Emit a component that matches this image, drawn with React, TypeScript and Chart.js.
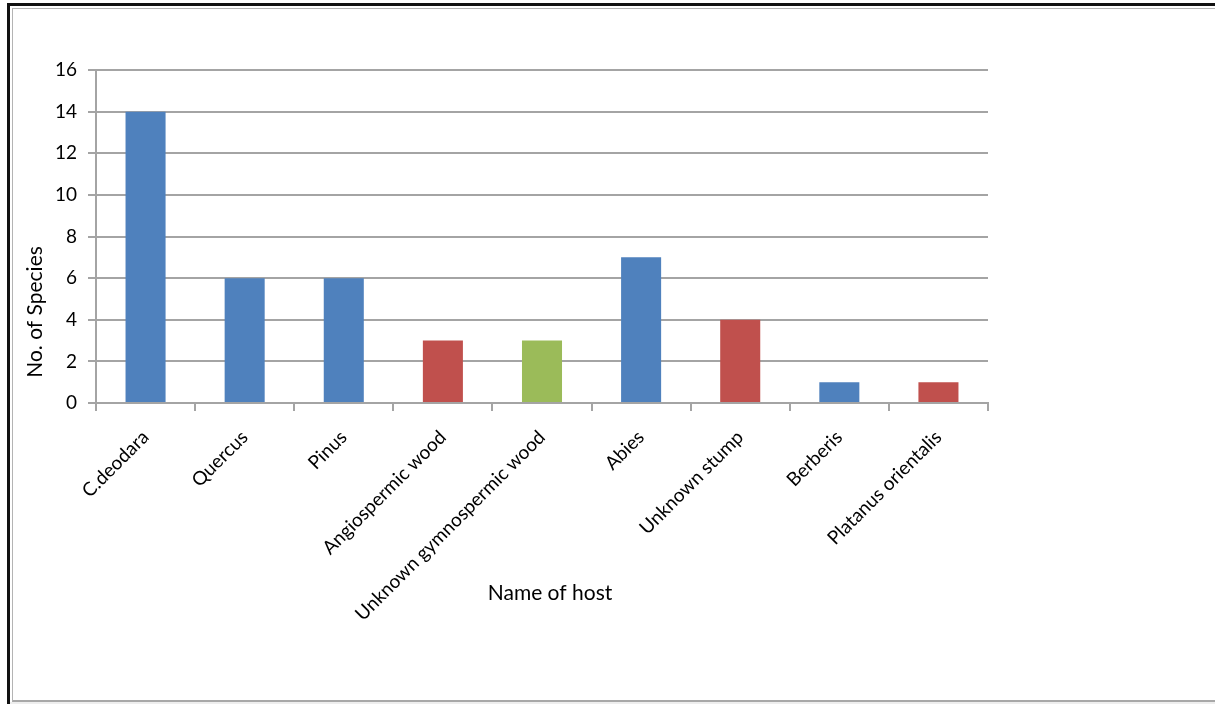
import React, { useEffect, useRef } from "react";
import { Chart, registerables } from "chart.js";

Chart.register(...registerables);

// ---- data ----
const categories = [
  "C.deodara",
  "Quercus",
  "Pinus",
  "Angiospermic wood",
  "Unknown gymnospermic wood",
  "Abies",
  "Unknown stump",
  "Berberis",
  "Platanus orientalis",
];
const speciesCounts = [14, 6, 6, 3, 3, 7, 4, 1, 1];
const barColorKeys = ["blue", "blue", "blue", "red", "green", "blue", "red", "blue", "red"];
const yMin = 0;
const yMax = 16;
const yStep = 2;
const yAxisTitle = "No. of Species";
const xAxisTitle = "Name of host";

// ---- styles ----
const palette: Record<string, string> = {
  blue: "#4F81BD",
  red: "#C0504D",
  green: "#9BBB59",
};
const gridColor = "#a4a4a4";
const fontFamily = "Lato, 'Open Sans', sans-serif";

const axisTitlePlugin = {
  id: "axisTitles",
  afterDraw(chart: any) {
    const { ctx, chartArea } = chart;
    ctx.save();
    ctx.fillStyle = "#000";
    ctx.font = `21px ${fontFamily}`;
    ctx.textAlign = "center";
    ctx.textBaseline = "middle";
    ctx.save();
    ctx.translate(chartArea.left - 61, chartArea.top + 242);
    ctx.rotate(-Math.PI / 2);
    ctx.fillText(yAxisTitle, 0, 0);
    ctx.restore();
    ctx.fillText(xAxisTitle, chartArea.left + 454, chartArea.bottom + 190);
    ctx.restore();
  },
};

export default function App() {
  const canvasRef = useRef<HTMLCanvasElement | null>(null);

  useEffect(() => {
    if (!canvasRef.current) return;
    const chart = new Chart(canvasRef.current, {
      type: "bar",
      data: {
        labels: categories,
        datasets: [
          {
            data: speciesCounts,
            backgroundColor: barColorKeys.map((k) => palette[k]),
            borderWidth: 0,
            barPercentage: 0.404,
            categoryPercentage: 1,
          },
        ],
      },
      options: {
        responsive: false,
        animation: false,
        layout: { padding: { left: 0, top: 70, right: 227, bottom: 11 } },
        plugins: {
          legend: { display: false },
          tooltip: { enabled: false },
          title: { display: false },
        },
        scales: {
          x: {
            grid: {
              display: true,
              drawOnChartArea: false,
              drawTicks: true,
              tickLength: 8,
              color: gridColor,
              lineWidth: 2,
              offset: true,
            },
            border: { color: gridColor, width: 2 },
            ticks: {
              autoSkip: false,
              maxRotation: 45,
              minRotation: 45,
              padding: 15,
              color: "#000",
              font: { family: fontFamily, size: 19 },
            },
            afterFit: (s: any) => {
              s.height = 290;
            },
          },
          y: {
            min: yMin,
            max: yMax,
            ticks: {
              stepSize: yStep,
              padding: 11,
              color: "#000",
              font: { family: fontFamily, size: 19 },
            },
            grid: { color: gridColor, lineWidth: 2, tickLength: 8 },
            border: { color: gridColor, width: 2 },
            afterFit: (s: any) => {
              s.width = 96;
            },
          },
        },
      },
      plugins: [axisTitlePlugin],
    });
    return () => chart.destroy();
  }, []);

  return (
    <div
      style={{
        position: "absolute",
        left: 0,
        top: 0,
        width: 1215,
        height: 704,
        overflow: "hidden",
        background: "#fff",
      }}
    >
      <div
        style={{
          position: "absolute",
          left: 7,
          top: 3,
          width: 1300,
          height: 720,
          borderLeft: "3px solid #111",
          borderTop: "3px solid #111",
        }}
      />
      <div
        style={{
          position: "absolute",
          left: 12,
          top: 8,
          width: 1300,
          height: 694,
          boxSizing: "border-box",
          borderLeft: "1px solid #b4b4b4",
          borderTop: "1px solid #b4b4b4",
          borderBottom: "2px solid #a8a8a8",
        }}
      />
      <div
        style={{
          position: "absolute",
          left: 10,
          top: 702,
          width: 1300,
          height: 2,
          background: "#eeeeee",
        }}
      />
      <canvas
        ref={canvasRef}
        width={1215}
        height={704}
        style={{ position: "absolute", left: 0, top: 0, width: 1215, height: 704 }}
      />
    </div>
  );
}
